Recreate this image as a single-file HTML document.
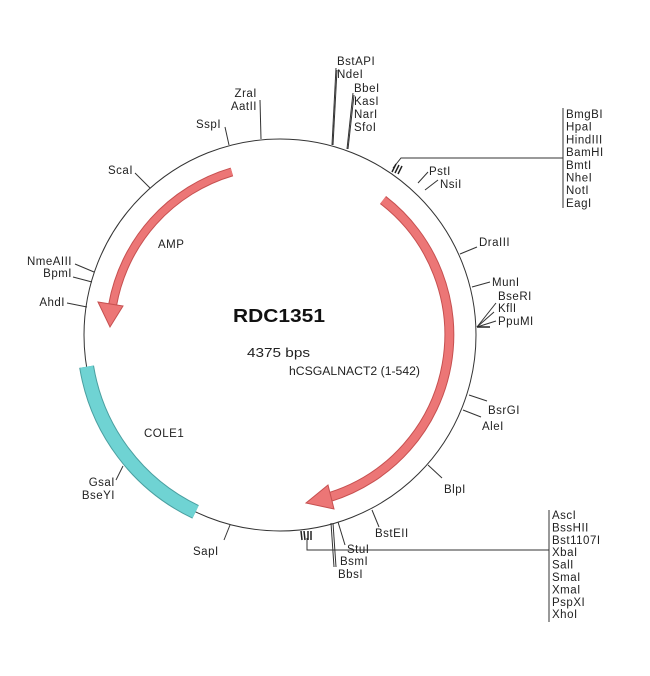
<!DOCTYPE html>
<html><head><meta charset="utf-8"><style>
html,body{margin:0;padding:0;background:#fff;}
svg{display:block;font-family:"Liberation Sans",Arial,sans-serif;}
text{font-size:11.5px;fill:#222;letter-spacing:0.5px;}
</style></head><body>
<svg width="650" height="676" viewBox="0 0 650 676" xmlns="http://www.w3.org/2000/svg">
<circle cx="280" cy="335" r="196" fill="none" stroke="#333" stroke-width="1"/>
<path d="M 86.6 366.7 A 196 196 0 0 0 195.6 511.9" fill="none" stroke="#4a9fa0" stroke-width="15"/>
<path d="M 86.6 366.7 A 196 196 0 0 0 195.6 511.9" fill="none" stroke="#6fd3d3" stroke-width="13"/>
<path d="M 231.9 171.9 A 170 170 0 0 0 112.6 305" fill="none" stroke="#c65050" stroke-width="9"/>
<path d="M 231.9 171.9 A 170 170 0 0 0 112.6 305" fill="none" stroke="#ec7676" stroke-width="7"/>
<polygon points="98,302 123,306 110,327" fill="#ec7676" stroke="#c65050" stroke-width="1"/>
<path d="M 383 200 A 170 170 0 0 1 330 497" fill="none" stroke="#c65050" stroke-width="10"/>
<path d="M 383 200 A 170 170 0 0 1 330 497" fill="none" stroke="#ec7676" stroke-width="8"/>
<polygon points="328,485 334,509 306,503" fill="#ec7676" stroke="#c65050" stroke-width="1"/>
<g stroke="#333" stroke-width="1" fill="none">
<line x1="229" y1="145" x2="225" y2="127"/>
<line x1="261" y1="139" x2="260" y2="100"/>
<line x1="332" y1="145" x2="336" y2="68"/>
<line x1="333" y1="145" x2="337" y2="70"/>
<line x1="347" y1="149" x2="353" y2="93"/>
<line x1="348" y1="149" x2="354" y2="95"/>
<polyline points="393,168 401,158 563,158"/>
<line x1="563" y1="108" x2="563" y2="208"/>
<line x1="418" y1="183" x2="428" y2="172"/>
<line x1="425" y1="190" x2="438" y2="180"/>
<line x1="460" y1="254" x2="477" y2="247"/>
<line x1="472" y1="287" x2="490" y2="282"/>
<line x1="477" y1="327" x2="496" y2="303"/>
<line x1="477" y1="327" x2="494" y2="312"/>
<line x1="477" y1="327" x2="496" y2="321"/>
<line x1="469" y1="395" x2="487" y2="401"/>
<line x1="463" y1="410" x2="481" y2="417"/>
<line x1="428" y1="465" x2="442" y2="478"/>
<line x1="372" y1="510" x2="379" y2="527"/>
<line x1="338" y1="522" x2="345" y2="545"/>
<line x1="333" y1="523" x2="336" y2="567"/>
<line x1="331" y1="523" x2="334" y2="567"/>
<polyline points="307,538 307,550 549,550"/>
<line x1="549" y1="510" x2="549" y2="622"/>
<line x1="230" y1="525" x2="224" y2="540"/>
<line x1="123" y1="466" x2="116" y2="480"/>
<line x1="87" y1="307" x2="67" y2="303"/>
<line x1="92" y1="282" x2="73" y2="277"/>
<line x1="94" y1="272" x2="75" y2="264"/>
<line x1="150" y1="188" x2="135" y2="173"/>
</g>
<g stroke="#222" stroke-width="1.5">
<line x1="392" y1="172" x2="396" y2="164"/><line x1="395" y1="173" x2="399" y2="165"/><line x1="398" y1="174" x2="402" y2="166"/>
<line x1="477" y1="327" x2="490" y2="327"/>
<line x1="301" y1="531" x2="302" y2="540"/><line x1="304" y1="531" x2="305" y2="540"/><line x1="308" y1="531" x2="308" y2="540"/><line x1="311" y1="531" x2="311" y2="540"/>
</g>
<text x="196" y="128">SspI</text>
<text x="257" y="97" text-anchor="end">ZraI</text>
<text x="257" y="110" text-anchor="end">AatII</text>
<text x="337" y="65">BstAPI</text>
<text x="337" y="78">NdeI</text>
<text x="354" y="92">BbeI</text>
<text x="354" y="105">KasI</text>
<text x="354" y="118">NarI</text>
<text x="354" y="131">SfoI</text>
<g>
<text x="566" y="118">BmgBI</text><text x="566" y="130.7">HpaI</text><text x="566" y="143.4">HindIII</text><text x="566" y="156.1">BamHI</text><text x="566" y="168.8">BmtI</text><text x="566" y="181.5">NheI</text><text x="566" y="194.2">NotI</text><text x="566" y="206.9">EagI</text>
</g>
<text x="429" y="175">PstI</text>
<text x="440" y="188">NsiI</text>
<text x="479" y="246">DraIII</text>
<text x="492" y="286">MunI</text>
<text x="498" y="300">BseRI</text>
<text x="498" y="312">KflI</text>
<text x="498" y="325">PpuMI</text>
<text x="488" y="414">BsrGI</text>
<text x="482" y="430">AleI</text>
<text x="444" y="493">BlpI</text>
<text x="375" y="537">BstEII</text>
<text x="347" y="553">StuI</text>
<text x="340" y="565">BsmI</text>
<text x="338" y="578">BbsI</text>
<g>
<text x="552" y="519">AscI</text><text x="552" y="531.4">BssHII</text><text x="552" y="543.8">Bst1107I</text><text x="552" y="556.2">XbaI</text><text x="552" y="568.6">SalI</text><text x="552" y="581">SmaI</text><text x="552" y="593.4">XmaI</text><text x="552" y="605.8">PspXI</text><text x="552" y="618.2">XhoI</text>
</g>
<text x="193" y="555">SapI</text>
<text x="115" y="486" text-anchor="end">GsaI</text>
<text x="115" y="499" text-anchor="end">BseYI</text>
<text x="65" y="306" text-anchor="end">AhdI</text>
<text x="72" y="265" text-anchor="end">NmeAIII</text>
<text x="72" y="277" text-anchor="end">BpmI</text>
<text x="108" y="174">ScaI</text>
<text x="158" y="248">AMP</text>
<text x="144" y="437">COLE1</text>
<text x="233" y="322" textLength="92" lengthAdjust="spacingAndGlyphs" style="font-size:18.5px;font-weight:bold;fill:#111;letter-spacing:0">RDC1351</text>
<text x="247" y="357" textLength="63" lengthAdjust="spacingAndGlyphs" style="font-size:13px;letter-spacing:0">4375 bps</text>
<text x="289" y="375" textLength="131" lengthAdjust="spacingAndGlyphs" style="letter-spacing:0">hCSGALNACT2 (1-542)</text>
</svg>
</body></html>
